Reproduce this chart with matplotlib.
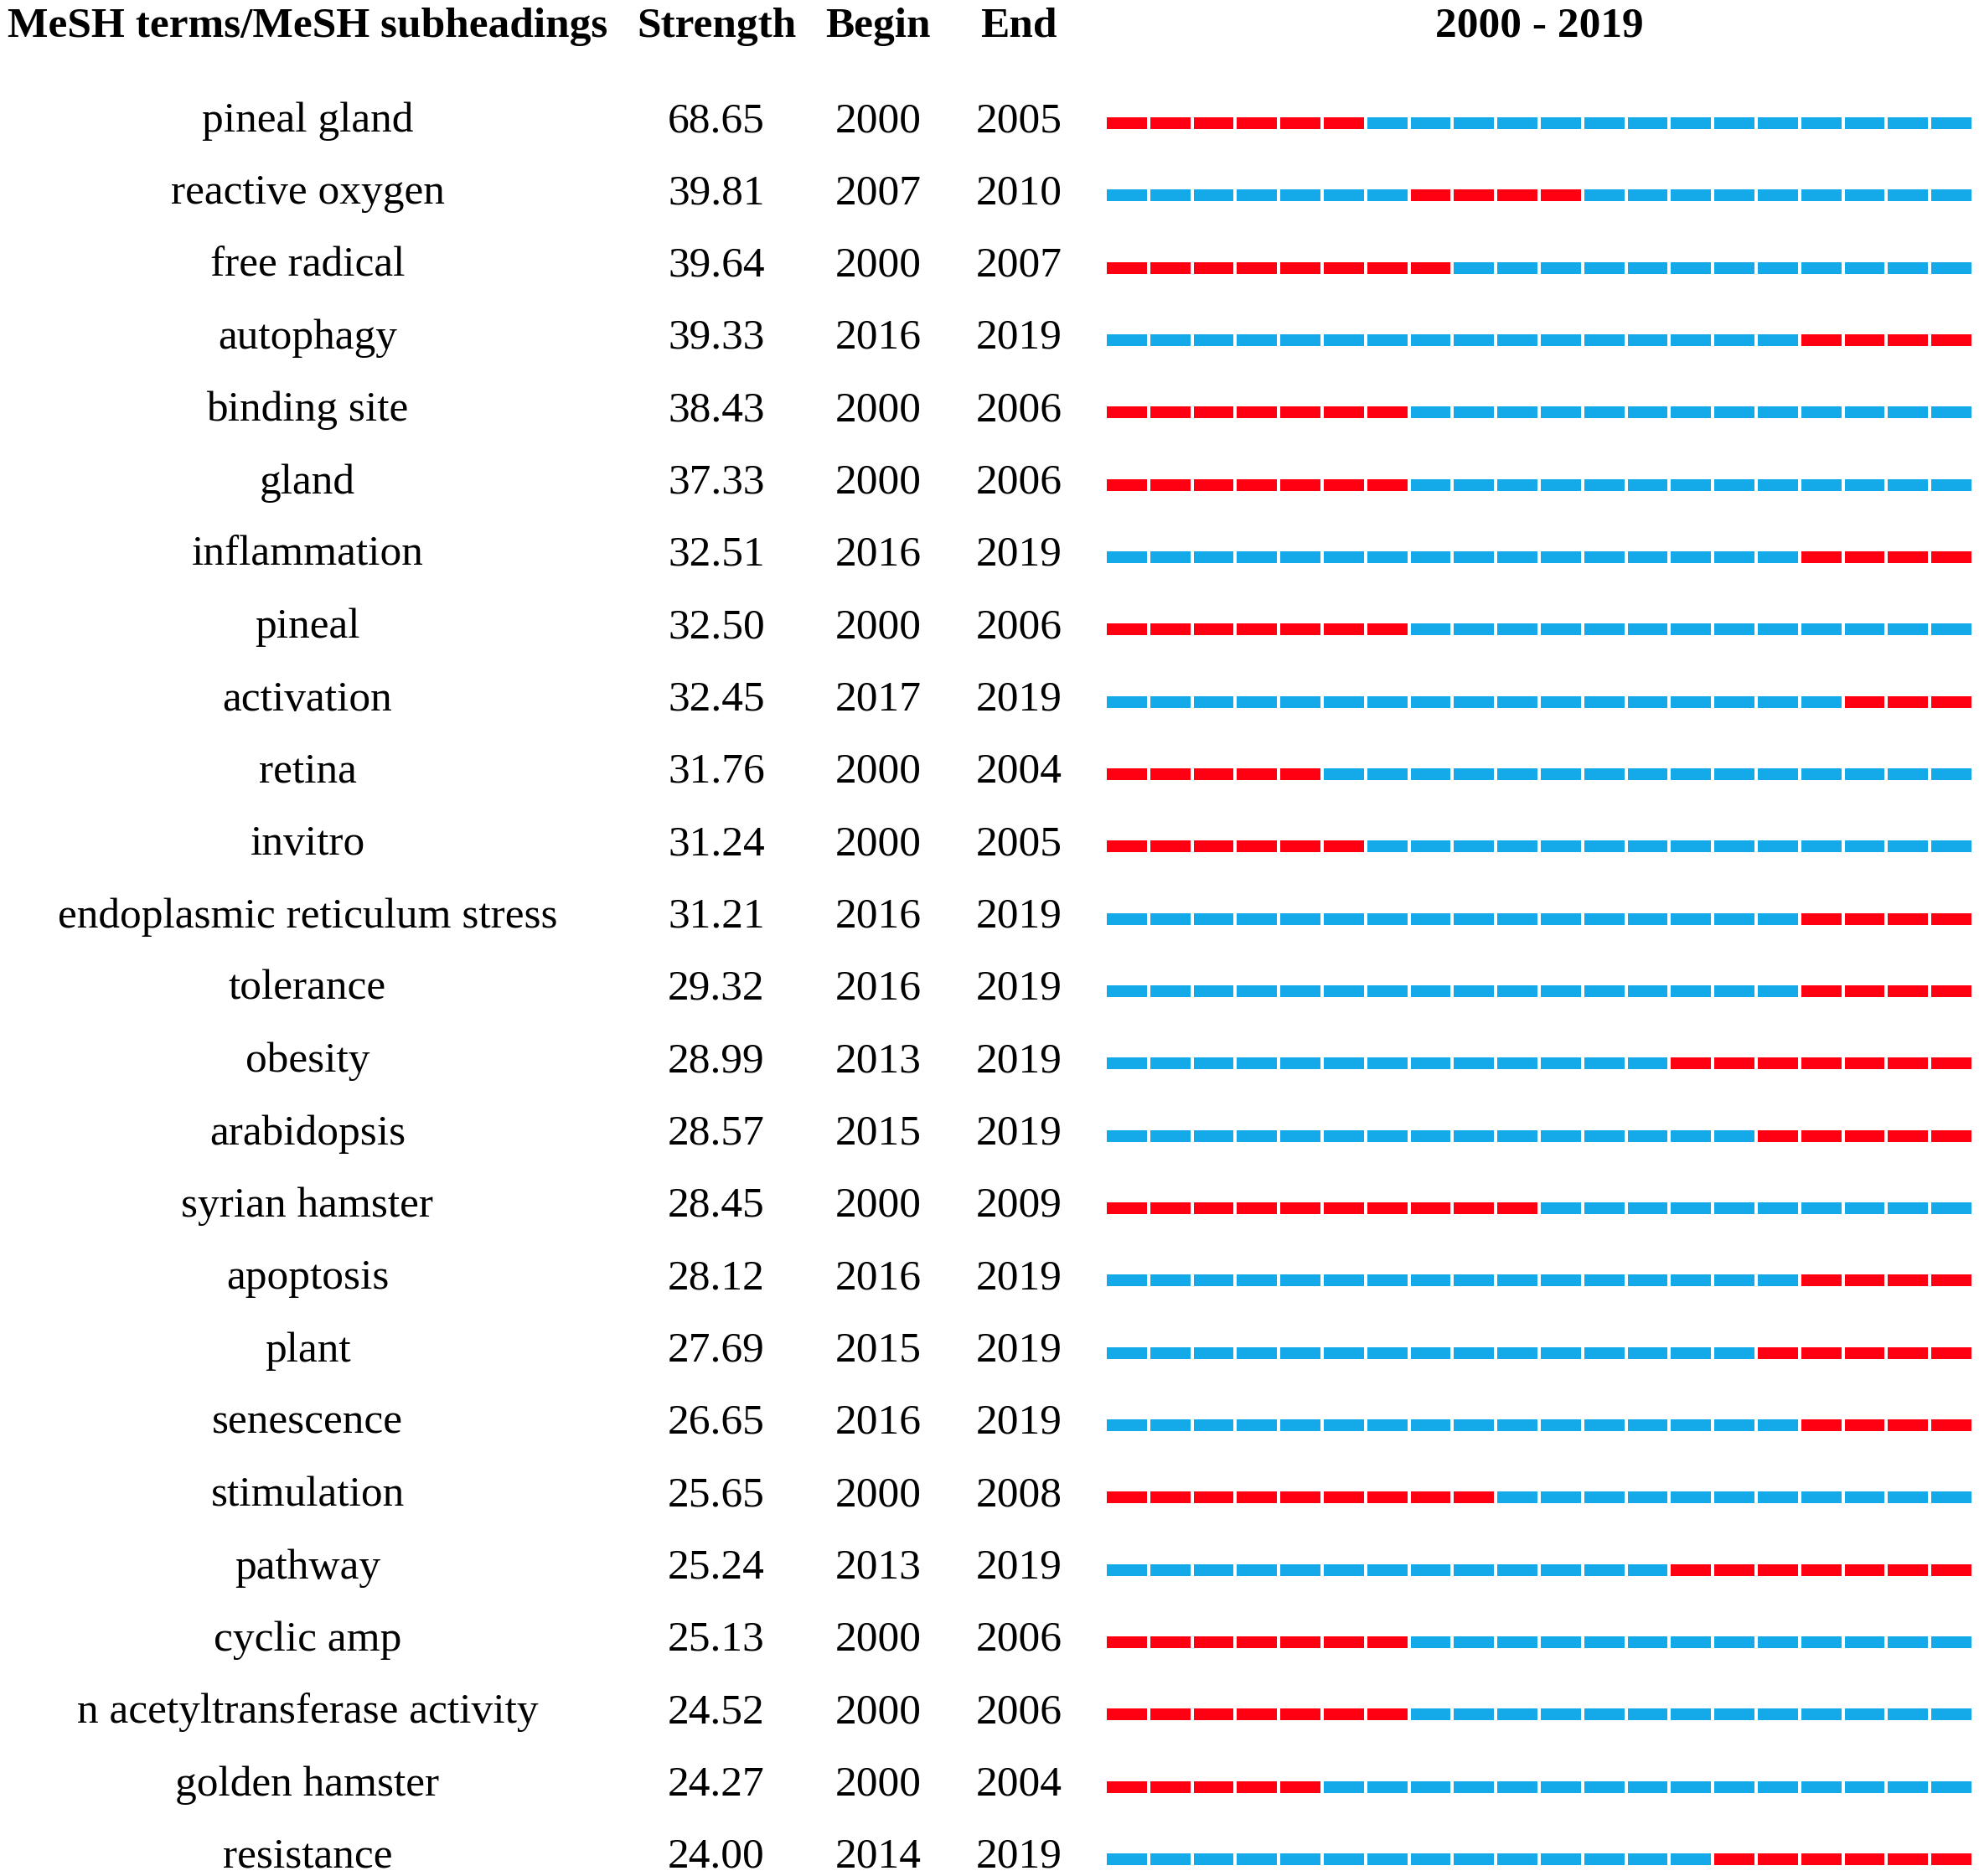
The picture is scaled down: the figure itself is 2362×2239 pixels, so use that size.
import matplotlib
matplotlib.use("Agg")
import matplotlib.pyplot as plt
from matplotlib.transforms import blended_transform_factory

terms = ["pineal gland", "reactive oxygen", "free radical", "autophagy", "binding site",
         "gland", "inflammation", "pineal", "activation", "retina", "invitro",
         "endoplasmic reticulum stress", "tolerance", "obesity", "arabidopsis",
         "syrian hamster", "apoptosis", "plant", "senescence", "stimulation",
         "pathway", "cyclic amp", "n acetyltransferase activity", "golden hamster",
         "resistance"]
strength = [68.65, 39.81, 39.64, 39.33, 38.43, 37.33, 32.51, 32.50, 32.45, 31.76,
            31.24, 31.21, 29.32, 28.99, 28.57, 28.45, 28.12, 27.69, 26.65, 25.65,
            25.24, 25.13, 24.52, 24.27, 24.00]
begin = [2000, 2007, 2000, 2016, 2000, 2000, 2016, 2000, 2017, 2000, 2000, 2016, 2016,
         2013, 2015, 2000, 2016, 2015, 2016, 2000, 2013, 2000, 2000, 2000, 2014]
end = [2005, 2010, 2007, 2019, 2006, 2006, 2019, 2006, 2019, 2004, 2005, 2019, 2019,
       2019, 2019, 2009, 2019, 2019, 2019, 2008, 2019, 2006, 2006, 2004, 2019]
years = list(range(2000, 2020))
headers = ["MeSH terms/MeSH subheadings", "Strength", "Begin", "End", "2000 - 2019"]

RED = "#FF0012"
BLUE = "#14A9E8"
W, H = 2362, 2239
plt.rcParams['font.family'] = ['Liberation Serif', 'DejaVu Serif']

fig = plt.figure(figsize=(W / 100, H / 100), dpi=100)
ax = fig.add_axes([0, 0, 1, 1])
ax.set_axis_off()
period = 51.8
x0 = 1321
ax.set_xlim(2000 - x0 / period, 2000 + (W - x0) / period)
row = 86.33
y0 = 147
ax.set_ylim((H - y0) / row, -y0 / row)

gap = 4 / period
thick = 14 / row
for i in range(len(terms)):
    cols = [RED if begin[i] <= yr <= end[i] else BLUE for yr in years]
    ax.barh([i] * len(years), [1 - gap] * len(years), left=years, height=thick,
            color=cols, edgecolor='none')

tr = blended_transform_factory(fig.transFigure, ax.transData)
fs = 37
colx = [367 / W, 855 / W, 1048 / W, 1216 / W, 1837 / W]
hy = (44 - y0) / row
for cx, h in zip(colx, headers):
    ax.text(cx, hy, h, transform=tr, ha='center', va='baseline', fontsize=fs,
            fontweight='bold')
off = 10 / row
for i in range(len(terms)):
    yb = i + off
    ax.text(colx[0], yb, terms[i], transform=tr, ha='center', va='baseline', fontsize=fs)
    ax.text(colx[1], yb, f"{strength[i]:.2f}", transform=tr, ha='center', va='baseline', fontsize=fs)
    ax.text(colx[2], yb, str(begin[i]), transform=tr, ha='center', va='baseline', fontsize=fs)
    ax.text(colx[3], yb, str(end[i]), transform=tr, ha='center', va='baseline', fontsize=fs)

fig.savefig("out.png", dpi=100, facecolor='white')
